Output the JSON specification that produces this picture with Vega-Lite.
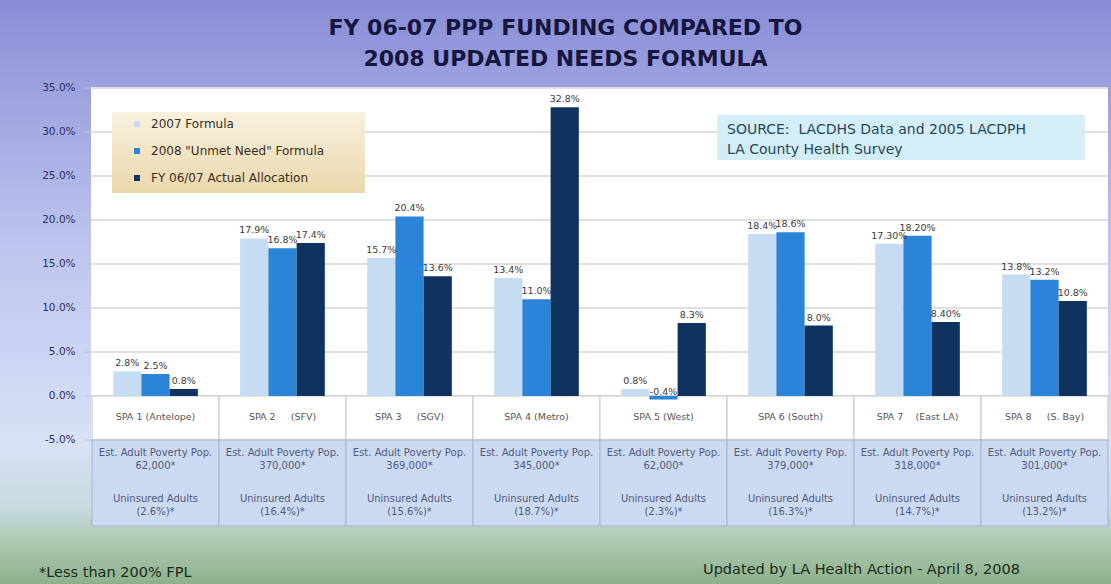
{
  "$schema": "https://vega.github.io/schema/vega-lite/v6.json",
  "width": 1111,
  "height": 584,
  "autosize": {"type": "none"},
  "padding": 0,
  "background": "#a9b0e3",
  "config": {"view": {"stroke": null}, "font": "DejaVu Sans"},
  "datasets": {
    "bars": [
      {"spa": "SPA 1", "series": "2007 Formula", "value": 2.8, "label": "2.8%"},
      {"spa": "SPA 1", "series": "2008 \"Unmet Need\" Formula", "value": 2.5, "label": "2.5%"},
      {"spa": "SPA 1", "series": "FY 06/07 Actual Allocation", "value": 0.8, "label": "0.8%"},
      {"spa": "SPA 2", "series": "2007 Formula", "value": 17.9, "label": "17.9%"},
      {"spa": "SPA 2", "series": "2008 \"Unmet Need\" Formula", "value": 16.8, "label": "16.8%"},
      {"spa": "SPA 2", "series": "FY 06/07 Actual Allocation", "value": 17.4, "label": "17.4%"},
      {"spa": "SPA 3", "series": "2007 Formula", "value": 15.7, "label": "15.7%"},
      {"spa": "SPA 3", "series": "2008 \"Unmet Need\" Formula", "value": 20.4, "label": "20.4%"},
      {"spa": "SPA 3", "series": "FY 06/07 Actual Allocation", "value": 13.6, "label": "13.6%"},
      {"spa": "SPA 4", "series": "2007 Formula", "value": 13.4, "label": "13.4%"},
      {"spa": "SPA 4", "series": "2008 \"Unmet Need\" Formula", "value": 11.0, "label": "11.0%"},
      {"spa": "SPA 4", "series": "FY 06/07 Actual Allocation", "value": 32.8, "label": "32.8%"},
      {"spa": "SPA 5", "series": "2007 Formula", "value": 0.8, "label": "0.8%"},
      {"spa": "SPA 5", "series": "2008 \"Unmet Need\" Formula", "value": -0.4, "label": "-0.4%"},
      {"spa": "SPA 5", "series": "FY 06/07 Actual Allocation", "value": 8.3, "label": "8.3%"},
      {"spa": "SPA 6", "series": "2007 Formula", "value": 18.4, "label": "18.4%"},
      {"spa": "SPA 6", "series": "2008 \"Unmet Need\" Formula", "value": 18.6, "label": "18.6%"},
      {"spa": "SPA 6", "series": "FY 06/07 Actual Allocation", "value": 8.0, "label": "8.0%"},
      {"spa": "SPA 7", "series": "2007 Formula", "value": 17.3, "label": "17.30%"},
      {"spa": "SPA 7", "series": "2008 \"Unmet Need\" Formula", "value": 18.2, "label": "18.20%"},
      {"spa": "SPA 7", "series": "FY 06/07 Actual Allocation", "value": 8.4, "label": "8.40%"},
      {"spa": "SPA 8", "series": "2007 Formula", "value": 13.8, "label": "13.8%"},
      {"spa": "SPA 8", "series": "2008 \"Unmet Need\" Formula", "value": 13.2, "label": "13.2%"},
      {"spa": "SPA 8", "series": "FY 06/07 Actual Allocation", "value": 10.8, "label": "10.8%"}
    ],
    "cells": [
      {"spa": "SPA 1", "name": "SPA 1 (Antelope)", "pop": "62,000*", "unins": "(2.6%)*"},
      {"spa": "SPA 2", "name": "SPA 2\u00a0\u00a0\u00a0\u00a0\u00a0(SFV)", "pop": "370,000*", "unins": "(16.4%)*"},
      {"spa": "SPA 3", "name": "SPA 3\u00a0\u00a0\u00a0\u00a0\u00a0(SGV)", "pop": "369,000*", "unins": "(15.6%)*"},
      {"spa": "SPA 4", "name": "SPA 4 (Metro)", "pop": "345,000*", "unins": "(18.7%)*"},
      {"spa": "SPA 5", "name": "SPA 5 (West)", "pop": "62,000*", "unins": "(2.3%)*"},
      {"spa": "SPA 6", "name": "SPA 6 (South)", "pop": "379,000*", "unins": "(16.3%)*"},
      {"spa": "SPA 7", "name": "SPA 7\u00a0\u00a0\u00a0\u00a0(East LA)", "pop": "318,000*", "unins": "(14.7%)*"},
      {"spa": "SPA 8", "name": "SPA 8\u00a0\u00a0\u00a0\u00a0\u00a0(S. Bay)", "pop": "301,000*", "unins": "(13.2%)*"}
    ],
    "yticks": [
      {"v": -5, "label": "-5.0%"},
      {"v": 0, "label": "0.0%"},
      {"v": 5, "label": "5.0%"},
      {"v": 10, "label": "10.0%"},
      {"v": 15, "label": "15.0%"},
      {"v": 20, "label": "20.0%"},
      {"v": 25, "label": "25.0%"},
      {"v": 30, "label": "30.0%"},
      {"v": 35, "label": "35.0%"}
    ]
  },
  "resolve": {"scale": {"x": "independent"}},
  "layer": [
    {
      "layer": [
        {
          "data": {"values": [{}]},
          "mark": {"type": "rect", "fill": {"gradient": "linear", "x1": 0, "y1": 0, "x2": 0, "y2": 1, "stops": [
            {"offset": 0, "color": "#898cd6"},
            {"offset": 0.17, "color": "#9fa4e0"},
            {"offset": 0.43, "color": "#bfc5ee"},
            {"offset": 0.63, "color": "#cfd6f4"},
            {"offset": 0.76, "color": "#d8e1f5"},
            {"offset": 0.87, "color": "#c6dadf"},
            {"offset": 0.93, "color": "#acc8b0"},
            {"offset": 1, "color": "#8db08a"}
          ]}},
          "encoding": {
            "x": {"datum": 0, "type": "quantitative", "scale": {"domain": [0, 100], "nice": false, "zero": false}, "axis": null},
            "x2": {"datum": 100},
            "y": {"datum": 45, "type": "quantitative", "scale": {"domain": [-21.364, 45], "nice": false, "zero": false}, "axis": null},
            "y2": {"datum": -21.364}
          }
        },
        {
          "data": {"values": [{}]},
          "mark": {"type": "rect", "fill": "#ffffff"},
          "encoding": {
            "x": {"datum": 8.19, "type": "quantitative", "axis": null},
            "x2": {"datum": 99.73},
            "y": {"datum": 35.1, "type": "quantitative", "axis": null},
            "y2": {"datum": -5}
          }
        },
        {
          "data": {"name": "yticks"},
          "mark": {"type": "rule", "stroke": "#c2c2c2", "strokeWidth": 1.2},
          "encoding": {
            "x": {"datum": 7.65, "type": "quantitative", "axis": null},
            "x2": {"datum": 99.73},
            "y": {"field": "v", "type": "quantitative", "axis": null}
          }
        },
        {
          "data": {"name": "yticks"},
          "mark": {"type": "text", "align": "right", "baseline": "middle", "fontSize": 10.5, "fill": "#2b2f5c"},
          "encoding": {
            "x": {"datum": 6.8, "type": "quantitative", "axis": null},
            "y": {"field": "v", "type": "quantitative", "axis": null},
            "text": {"field": "label"}
          }
        },
        {
          "data": {"values": [{}]},
          "mark": {"type": "rect", "fill": {"gradient": "linear", "x1": 0, "y1": 0, "x2": 0, "y2": 1, "stops": [
            {"offset": 0, "color": "#f8f1df"},
            {"offset": 1, "color": "#ead7ab"}
          ]}},
          "encoding": {
            "x": {"datum": 10.08, "type": "quantitative", "axis": null},
            "x2": {"datum": 32.85},
            "y": {"datum": 32.27, "type": "quantitative", "axis": null},
            "y2": {"datum": 23.07}
          }
        },
        {
          "data": {"values": [{}]},
          "mark": {"type": "rect", "fill": "#d3eef6"},
          "encoding": {
            "x": {"datum": 64.54, "type": "quantitative", "axis": null},
            "x2": {"datum": 97.66},
            "y": {"datum": 31.93, "type": "quantitative", "axis": null},
            "y2": {"datum": 26.82}
          }
        },
        {
          "data": {"values": [{}]},
          "mark": {"type": "text", "align": "left", "baseline": "middle", "fontSize": 14, "lineHeight": 20, "fill": "#28475a"},
          "encoding": {
            "x": {"datum": 65.44, "type": "quantitative", "axis": null},
            "y": {"datum": 30.23, "type": "quantitative", "axis": null},
            "text": {"value": ["SOURCE:\u00a0\u00a0LACDHS Data and 2005 LACDPH", "LA County Health Survey"]}
          }
        },
        {
          "data": {"values": [{}]},
          "mark": {"type": "text", "align": "center", "baseline": "middle", "fontSize": 22, "fontWeight": "bold", "lineHeight": 31, "fill": "#16163f"},
          "encoding": {
            "x": {"datum": 50.9, "type": "quantitative", "axis": null},
            "y": {"datum": 41.82, "type": "quantitative", "axis": null},
            "text": {"value": ["FY 06-07 PPP FUNDING COMPARED TO", "2008 UPDATED NEEDS FORMULA"]}
          }
        },
        {
          "data": {"values": [{}]},
          "mark": {"type": "text", "align": "left", "baseline": "middle", "fontSize": 14.5, "fill": "#1c2a1c"},
          "encoding": {
            "x": {"datum": 3.51, "type": "quantitative", "axis": null},
            "y": {"datum": -20.11, "type": "quantitative", "axis": null},
            "text": {"value": "*Less than 200% FPL"}
          }
        },
        {
          "data": {"values": [{}]},
          "mark": {"type": "text", "align": "left", "baseline": "middle", "fontSize": 14.5, "fill": "#1c2a1c"},
          "encoding": {
            "x": {"datum": 63.28, "type": "quantitative", "axis": null},
            "y": {"datum": -19.77, "type": "quantitative", "axis": null},
            "text": {"value": "Updated by LA Health Action - April 8, 2008"}
          }
        }
      ]
    },
    {
      "layer": [
        {
          "data": {"name": "cells"},
          "mark": {"type": "rect", "fill": "#ffffff", "stroke": "#c4c4c4", "strokeWidth": 1},
          "encoding": {
            "x": {"field": "spa", "type": "nominal", "scale": {"domain": ["SPA 1", "SPA 2", "SPA 3", "SPA 4", "SPA 5", "SPA 6", "SPA 7", "SPA 8"], "range": [92, 1108], "paddingInner": 0, "paddingOuter": 0}, "axis": null},
            "y": {"datum": 0, "type": "quantitative", "axis": null},
            "y2": {"datum": -5}
          }
        },
        {
          "data": {"name": "cells"},
          "mark": {"type": "rect", "fill": "#ccd9f3", "stroke": "#a8b4d0", "strokeWidth": 1},
          "encoding": {
            "x": {"field": "spa", "type": "nominal", "axis": null},
            "y": {"datum": -5, "type": "quantitative", "axis": null},
            "y2": {"datum": -14.77}
          }
        },
        {
          "data": {"name": "cells"},
          "mark": {"type": "text", "baseline": "middle", "fontSize": 9.5, "fill": "#555555"},
          "encoding": {
            "x": {"field": "spa", "type": "nominal", "axis": null},
            "y": {"datum": -2.39, "type": "quantitative", "axis": null},
            "text": {"field": "name"}
          }
        },
        {
          "data": {"name": "cells"},
          "mark": {"type": "text", "baseline": "middle", "fontSize": 10, "fill": "#505c7c"},
          "encoding": {
            "x": {"field": "spa", "type": "nominal", "axis": null},
            "y": {"datum": -6.48, "type": "quantitative", "axis": null},
            "text": {"value": "Est. Adult Poverty Pop."}
          }
        },
        {
          "data": {"name": "cells"},
          "mark": {"type": "text", "baseline": "middle", "fontSize": 10, "fill": "#505c7c"},
          "encoding": {
            "x": {"field": "spa", "type": "nominal", "axis": null},
            "y": {"datum": -7.95, "type": "quantitative", "axis": null},
            "text": {"field": "pop"}
          }
        },
        {
          "data": {"name": "cells"},
          "mark": {"type": "text", "baseline": "middle", "fontSize": 10, "fill": "#505c7c"},
          "encoding": {
            "x": {"field": "spa", "type": "nominal", "axis": null},
            "y": {"datum": -11.7, "type": "quantitative", "axis": null},
            "text": {"value": "Uninsured Adults"}
          }
        },
        {
          "data": {"name": "cells"},
          "mark": {"type": "text", "baseline": "middle", "fontSize": 10, "fill": "#505c7c"},
          "encoding": {
            "x": {"field": "spa", "type": "nominal", "axis": null},
            "y": {"datum": -13.18, "type": "quantitative", "axis": null},
            "text": {"field": "unins"}
          }
        },
        {
          "data": {"name": "bars"},
          "mark": {"type": "bar"},
          "encoding": {
            "x": {"field": "spa", "type": "nominal", "axis": null},
            "xOffset": {"field": "series", "type": "nominal", "scale": {"domain": ["2007 Formula", "2008 \"Unmet Need\" Formula", "FY 06/07 Actual Allocation"], "paddingInner": 0, "paddingOuter": 0.75}},
            "y": {"field": "value", "type": "quantitative", "axis": null},
            "color": {
              "field": "series", "type": "nominal",
              "scale": {"domain": ["2007 Formula", "2008 \"Unmet Need\" Formula", "FY 06/07 Actual Allocation"], "range": ["#c5dcf3", "#2b84d8", "#0f335e"]},
              "legend": {
                "orient": "none", "legendX": 131, "legendY": 118, "title": null, "padding": 0,
                "symbolType": "square", "symbolSize": 36, "symbolStrokeWidth": 0,
                "labelFontSize": 12, "labelColor": "#3a2e1c", "labelOffset": 8, "rowPadding": 15, "labelLimit": 300
              }
            }
          }
        },
        {
          "data": {"name": "bars"},
          "mark": {"type": "text", "baseline": "bottom", "dy": -3, "fontSize": 9.5, "fill": "#3a3a3a"},
          "encoding": {
            "x": {"field": "spa", "type": "nominal", "axis": null},
            "xOffset": {"field": "series", "type": "nominal"},
            "y": {"field": "value", "type": "quantitative", "axis": null},
            "text": {"field": "label"}
          }
        }
      ]
    }
  ]
}
